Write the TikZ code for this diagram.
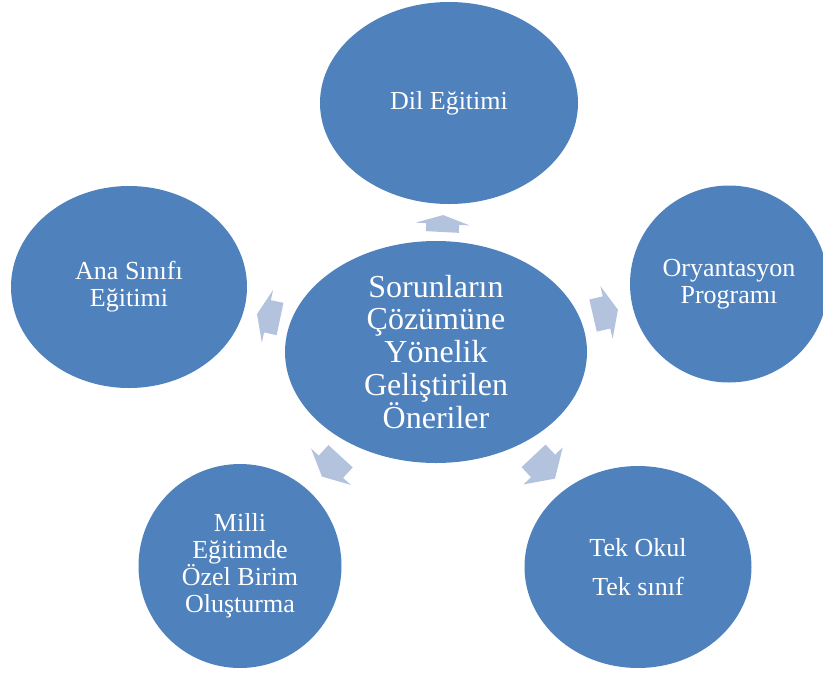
\documentclass[tikz,border=0pt]{standalone}
\usepackage{fontspec}
\setmainfont{Liberation Serif}
\usetikzlibrary{shapes.geometric,calc}
\definecolor{ellblue}{HTML}{4F81BD}
\definecolor{arrblue}{HTML}{B3C3DE}
\tikzset{
  bubble/.style={ellipse, fill=ellblue, draw=none, inner sep=0pt, text=white, align=center,
     font=\fontsize{26}{27}\selectfont},
  hub/.style={bubble, font=\fontsize{32}{32.7}\selectfont},
  arrowfill/.style={fill=arrblue, draw=none}
}
\newcommand\radarrow[5]{%
  \coordinate (ab) at ($(#1.center)!#3!(#2.center)$);
  \coordinate (ah) at ($(#1.center)!#4!(#2.center)$);
  \coordinate (at) at ($(#1.center)!#5!(#2.center)$);
  \fill[arrowfill] ($(ab)!16.5pt!90:(at)$) -- ($(ah)!16.5pt!90:(at)$) -- ($(ah)!27pt!90:(at)$)
     -- (at) -- ($(ah)!27pt!-90:(at)$) -- ($(ah)!16.5pt!-90:(at)$) -- ($(ab)!16.5pt!-90:(at)$) -- cycle;
}
\begin{document}
\begin{tikzpicture}[x=1pt,y=-1pt]
\useasboundingbox (0,0) rectangle (823,673);
\clip (0,0) rectangle (823,673);
\node[hub, minimum width=302pt, minimum height=222pt] (c) at (436,352)
  {Sorunların\\Çözümüne\\Yönelik\\Geliştirilen\\Öneriler};
\node[bubble, minimum width=258pt, minimum height=202pt] (dil) at (449,103) {Dil Eğitimi};
\node[bubble, minimum width=198pt, minimum height=197pt] (ory) at (729,284) {Oryantasyon\\Programı};
\node[bubble, minimum width=236pt, minimum height=202pt] (ana) at (129,287) {Ana Sınıfı\\Eğitimi};
\node[bubble, minimum width=203pt, minimum height=204pt] (mil) at (240,566) {Milli\\Eğitimde\\Özel Birim\\Oluşturma};
\node[bubble, minimum width=227pt, minimum height=202pt] (tek) at (638,567) {Tek Okul\\[12pt]Tek sınıf};
\radarrow{c}{dil}{0.482}{0.514}{0.550}
\radarrow{c}{ory}{0.536}{0.582}{0.621}
\radarrow{c}{ana}{0.508}{0.549}{0.583}
\radarrow{c}{mil}{0.487}{0.536}{0.582}
\radarrow{c}{tek}{0.483}{0.530}{0.589}
\end{tikzpicture}
\end{document}
